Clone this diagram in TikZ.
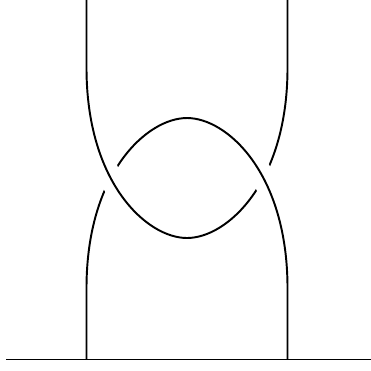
\documentclass[tikz,border=0pt]{standalone}
\usepackage{tikz}

\tikzset{strand/.style={line width=1.1pt}, gap/.style={white, line width=13pt}}

% the two clasped strands
\newcommand\cuppath{(cupTL) -- (86.5,68) .. controls +(0,115) and +(-40,0) .. (cupBot) .. controls +(40,0) and +(0,115) .. (287.5,68) -- (cupTR)}
\newcommand\cappath{(capBL) -- (86.5,288) .. controls +(0,-115) and +(-40,0) .. (capTop) .. controls +(40,0) and +(0,-115) .. (287.5,288) -- (capBR)}

\begin{document}
\begin{tikzpicture}[x=0.02cm, y=-0.02cm]
        \useasboundingbox (0,0) rectangle (371,370);

        \coordinate (cupTL)  at ( 86.5,   0.0);
        \coordinate (cupTR)  at (287.5,   0.0);
        \coordinate (cupBot) at (187.0, 238.0);
        \coordinate (capBL)  at ( 86.5, 359.5);
        \coordinate (capBR)  at (287.5, 359.5);
        \coordinate (capTop) at (187.0, 118.0);
        \coordinate (floorL) at (  6.0, 359.5);
        \coordinate (floorR) at (371.0, 359.5);

        \draw[strand] \cappath;
        % left crossing: cup over cap
        \begin{scope}
            \clip (0,0) rectangle (187,370);
            \draw[gap] \cuppath;
            \draw[strand] \cuppath;
        \end{scope}
        % right crossing: cap over cup
        \begin{scope}
            \clip (187,0) rectangle (371,370);
            \draw[strand] \cuppath;
            \draw[gap] \cappath;
            \draw[strand] \cappath;
        \end{scope}

        \draw[strand] (floorL) -- (floorR);
    \end{tikzpicture}
\end{document}
